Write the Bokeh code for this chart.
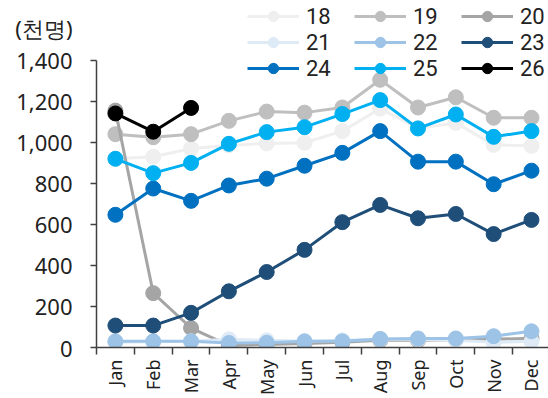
from bokeh.plotting import figure
from bokeh.models import (Range1d, FixedTicker, NumeralTickFormatter, Legend,
                          LegendItem, LinearAxis)
from bokeh.embed import file_html
from bokeh.resources import INLINE

months = ["Jan", "Feb", "Mar", "Apr", "May", "Jun", "Jul", "Aug", "Sep", "Oct", "Nov", "Dec"]
s18 = [920, 930, 970, 985, 995, 998, 1055, 1165, 1068, 1095, 988, 983]
s19 = [1040, 1025, 1040, 1105, 1150, 1145, 1170, 1305, 1170, 1220, 1120, 1120]
s20 = [1155, 265, 95, 10, 15, 20, 25, 35, 35, 38, 40, 45]
s21 = [25, 28, 30, 40, 35, 30, 35, 40, 40, 35, 25, 30]
s22 = [30, 30, 30, 22, 23, 30, 30, 42, 44, 44, 55, 79]
s23 = [107, 107, 169, 274, 368, 476, 611, 695, 630, 651, 553, 622]
s24 = [647, 775, 715, 790, 823, 886, 949, 1055, 906, 906, 796, 862]
s25 = [920, 850, 900, 993, 1050, 1074, 1138, 1206, 1068, 1136, 1027, 1055]
s26 = [1141, 1052, 1168]

series_names = ["18", "19", "20", "21", "22", "23", "24", "25", "26"]
series_values = [s18, s19, s20, s21, s22, s23, s24, s25, s26]
colors = ["#efefef", "#bfbfbf", "#a5a5a5", "#deebf7", "#9dc3e6",
          "#1f4e79", "#0070c0", "#00b0f0", "#000000"]
y_ticks = [0, 200, 400, 600, 800, 1000, 1200, 1400]
unit_label = "(천명)"

FONT = "Noto Sans"
AXIS_COLOR = "#404040"
TEXT_COLOR = "#222222"
W, H = 548, 398
BOTTOM = 50            # height of the x-axis panel
TOP_PAD = 60           # pixels between canvas top and the 1,400 tick
frame_h = H - BOTTOM
y_max = 1400 * frame_h / (frame_h - TOP_PAD)
unit_pos = y_max * (frame_h - 28) / frame_h   # unit caption sits 28px from the top

p = figure(width=W, height=H, output_backend="svg", toolbar_location=None,
           title=None,
           x_range=Range1d(0, 11.95), y_range=Range1d(0, y_max),
           min_border_left=96, min_border_right=0, min_border_top=0,
           min_border_bottom=BOTTOM)
p.outline_line_color = None
p.background_fill_color = "white"
p.border_fill_color = "white"
p.xgrid.visible = False
p.ygrid.visible = False

xs_all = [i + 0.5 for i in range(len(months))]

items = []
for name, vals, c in zip(series_names, series_values, colors):
    xs = xs_all[:len(vals)]
    r1 = p.line(xs, vals, line_color=c, line_width=3)
    r2 = p.scatter(xs, vals, size=15, fill_color=c, line_color=c, marker="circle")
    items.append(LegendItem(label=name, renderers=[r1, r2]))

# x axis: labels at category centres, tick marks at category boundaries
xa = p.xaxis[0]
xa.ticker = FixedTicker(ticks=xs_all, minor_ticks=list(range(0, 13)))
xa.major_label_overrides = {x: m for x, m in zip(xs_all, months)}
xa.major_label_orientation = 3.14159265 / 2
xa.major_tick_line_color = None
xa.major_tick_out = 0
xa.major_tick_in = 0
xa.minor_tick_out = 7
xa.minor_tick_in = 0
xa.minor_tick_line_color = AXIS_COLOR
xa.minor_tick_line_width = 1.5
xa.axis_line_color = AXIS_COLOR
xa.axis_line_width = 1.5
xa.major_label_text_font = FONT
xa.major_label_text_font_size = "18px"
xa.major_label_text_color = TEXT_COLOR
xa.major_label_standoff = 5

# inner y axis: line and tick marks only (as minor ticks), limited to 0..1400
ya = p.yaxis[0]
ya.bounds = (0, 1400)
ya.ticker = FixedTicker(ticks=[], minor_ticks=y_ticks)
ya.major_tick_line_color = None
ya.major_tick_out = 0
ya.major_tick_in = 0
ya.minor_tick_out = 6
ya.minor_tick_in = 0
ya.minor_tick_line_color = AXIS_COLOR
ya.minor_tick_line_width = 1.5
ya.axis_line_color = AXIS_COLOR
ya.axis_line_width = 1.5
ya.major_label_standoff = 0

# outer y axis: tick labels plus the unit caption
ya2 = LinearAxis(ticker=FixedTicker(ticks=y_ticks + [unit_pos]),
                 formatter=NumeralTickFormatter(format="0,0"))
ya2.major_label_overrides = {unit_pos: unit_label}
ya2.axis_line_color = None
ya2.major_tick_line_color = None
ya2.minor_tick_line_color = None
ya2.major_tick_out = 0
ya2.major_tick_in = 0
ya2.minor_tick_out = 0
ya2.minor_tick_in = 0
ya2.major_label_text_font = FONT
ya2.major_label_text_font_size = "22px"
ya2.major_label_text_color = TEXT_COLOR
ya2.major_label_standoff = 18
p.add_layout(ya2, "left")

legend = Legend(items=items, ncols=3, orientation="horizontal",
                location=(151, frame_h - 82), padding=0, margin=0, spacing=0,
                glyph_width=52, glyph_height=26, label_height=26, label_width=48,
                label_standoff=7, label_text_font="Roboto", label_text_font_size="22px",
                label_text_color=TEXT_COLOR, background_fill_alpha=0,
                border_line_color=None)
p.add_layout(legend, "center")

open("out.html", "w").write(file_html(p, INLINE))
